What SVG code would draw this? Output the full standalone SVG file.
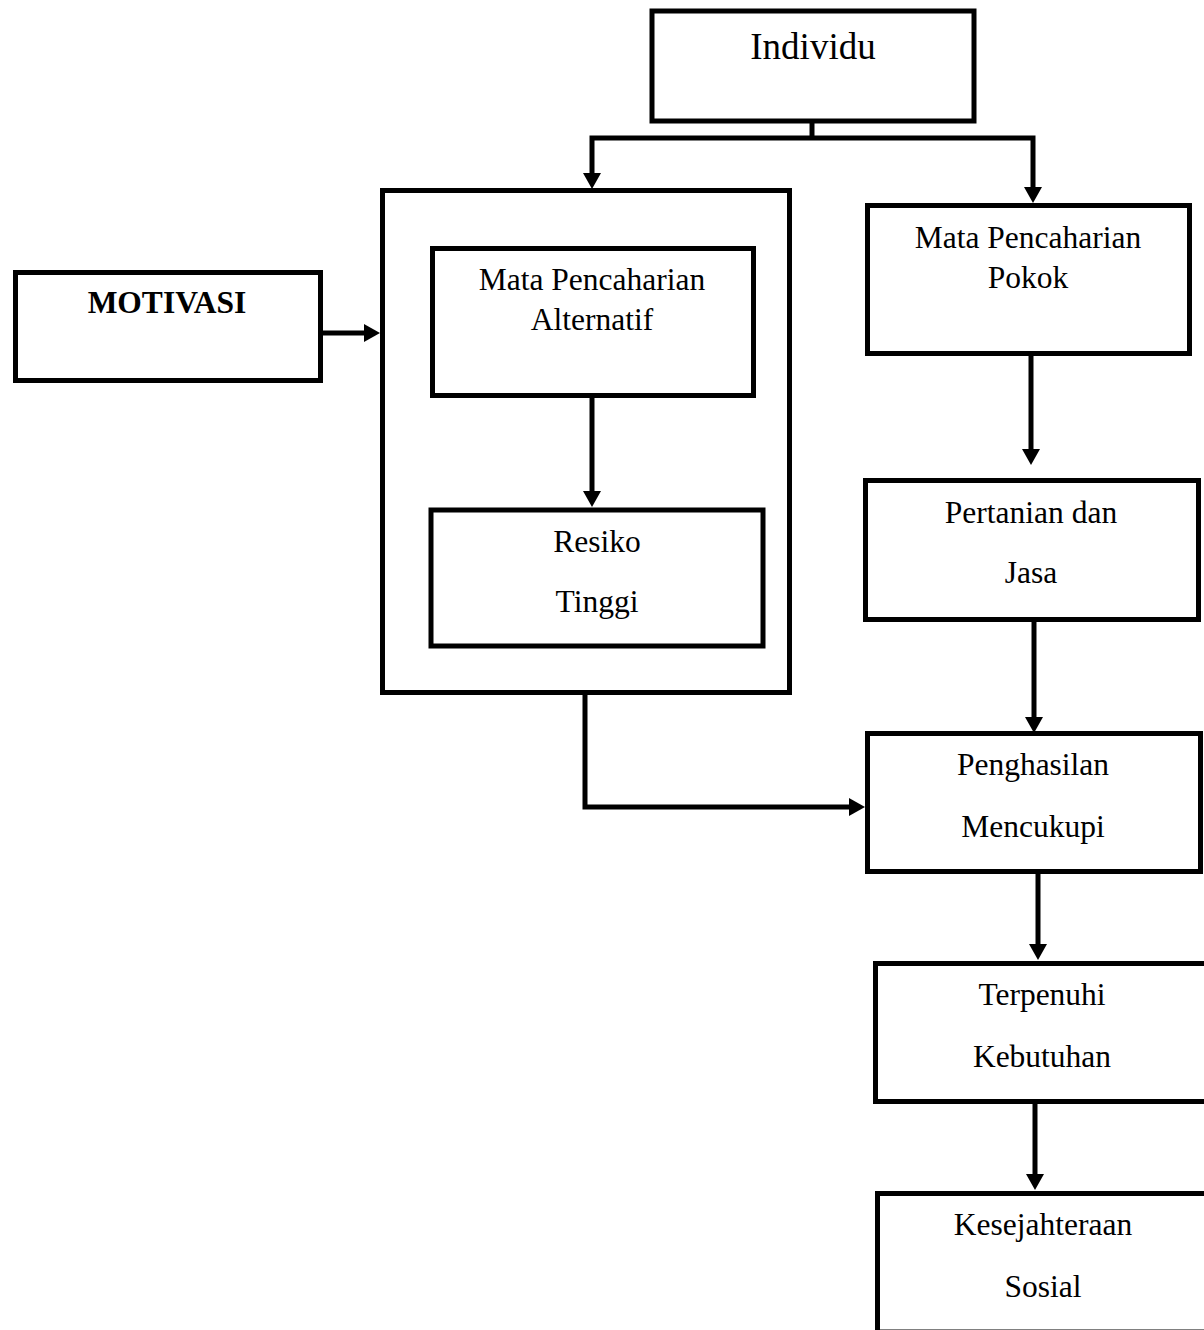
<svg xmlns="http://www.w3.org/2000/svg" width="1204" height="1330" viewBox="0 0 1204 1330">
<style>
.box{fill:none;stroke:#000;stroke-width:5}
.con{fill:none;stroke:#000;stroke-width:5}
text{font-family:"Liberation Serif","Times New Roman",serif;font-size:31.5px;fill:#000;text-anchor:middle}
.big{font-size:37px}
.bold{font-weight:bold}
</style>
<defs>
<marker id="arr" markerUnits="userSpaceOnUse" markerWidth="17" markerHeight="18" refX="8" refY="9" orient="auto">
<path d="M0,0 L16,9 L0,18 z" fill="#000"/>
</marker>
</defs>
<rect x="0" y="0" width="1204" height="1330" fill="#fff"/>
<g id="connectors">
<path class="con" d="M812,121 V138"/>
<path class="con" d="M812,138 H592 V181" marker-end="url(#arr)"/>
<path class="con" d="M812,138 H1033 V195" marker-end="url(#arr)"/>
<path class="con" d="M323,333 H372" marker-end="url(#arr)"/>
<path class="con" d="M592,396 V499" marker-end="url(#arr)"/>
<path class="con" d="M1031,353 V457" marker-end="url(#arr)"/>
<path class="con" d="M1034,620 V725" marker-end="url(#arr)"/>
<path class="con" d="M585,692 V807 H857" marker-end="url(#arr)"/>
<path class="con" d="M1038,872 V952" marker-end="url(#arr)"/>
<path class="con" d="M1035,1101 V1182" marker-end="url(#arr)"/>
</g>
<g id="individu">
<rect class="box" x="652" y="11" width="322" height="110"/>
<text class="big" x="813" y="59">Individu</text>
</g>
<g id="motivasi">
<rect class="box" x="15.5" y="272.5" width="305" height="108"/>
<text class="bold" x="167" y="313">MOTIVASI</text>
</g>
<g id="container">
<rect class="box" x="382.5" y="190.5" width="407" height="502"/>
</g>
<g id="alternatif">
<rect class="box" x="432.5" y="248.5" width="321" height="147"/>
<text x="592" y="290">Mata Pencaharian</text>
<text x="592" y="330">Alternatif</text>
</g>
<g id="resiko">
<rect class="box" x="431" y="510" width="332" height="136"/>
<text x="597" y="552">Resiko</text>
<text x="597" y="612">Tinggi</text>
</g>
<g id="pokok">
<rect class="box" x="867.5" y="205.5" width="322" height="148"/>
<text x="1028" y="248">Mata Pencaharian</text>
<text x="1028" y="288">Pokok</text>
</g>
<g id="pertanian">
<rect class="box" x="865.5" y="480.5" width="333" height="139"/>
<text x="1031" y="523">Pertanian dan</text>
<text x="1031" y="583">Jasa</text>
</g>
<g id="penghasilan">
<rect class="box" x="867.5" y="733.5" width="333" height="138"/>
<text x="1033" y="775">Penghasilan</text>
<text x="1033" y="837">Mencukupi</text>
</g>
<g id="terpenuhi">
<rect class="box" x="875.5" y="963.5" width="340" height="138"/>
<text x="1042" y="1005">Terpenuhi</text>
<text x="1042" y="1067">Kebutuhan</text>
</g>
<g id="kesejahteraan">
<rect class="box" x="877.5" y="1193.5" width="340" height="138.5"/>
<text x="1043" y="1235">Kesejahteraan</text>
<text x="1043" y="1297">Sosial</text>
</g>
</svg>
